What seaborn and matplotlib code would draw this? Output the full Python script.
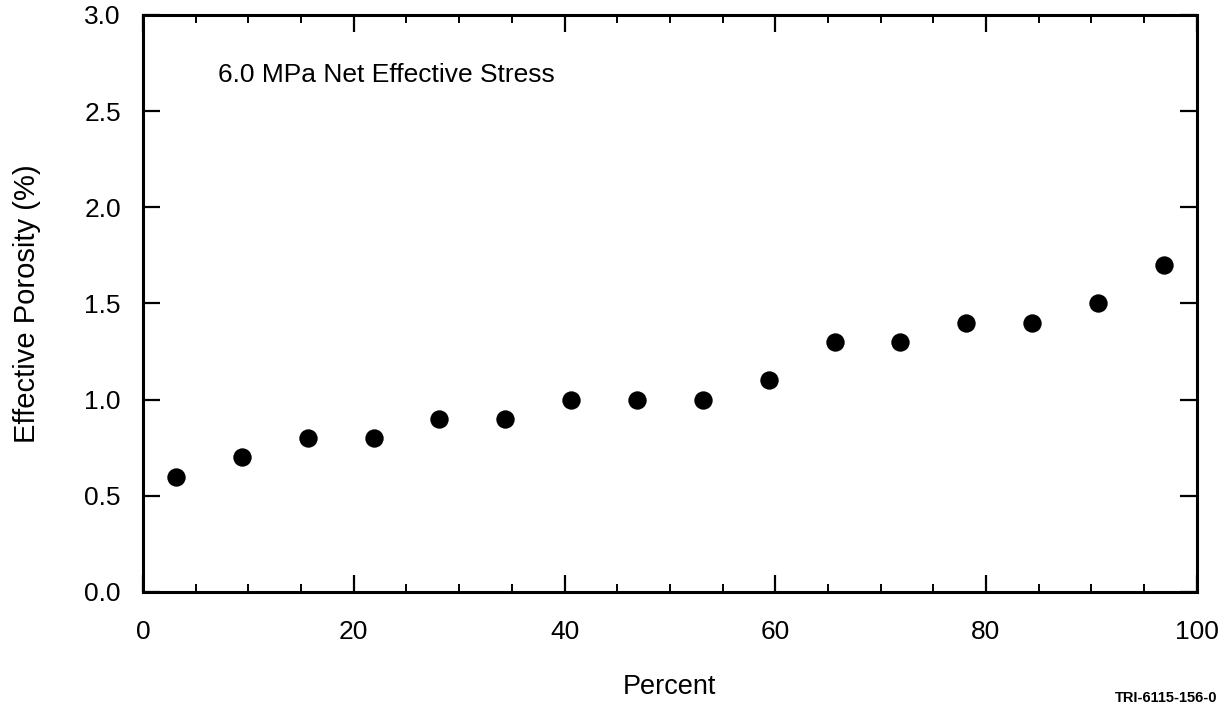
import matplotlib
matplotlib.use("Agg")
import matplotlib.pyplot as plt
import seaborn as sns
import pandas as pd
from matplotlib.ticker import MultipleLocator

# Cumulative percent (plotting position) and effective porosity at 6.0 MPa
percent = [3.125, 9.375, 15.625, 21.875, 28.125, 34.375, 40.625, 46.875,
           53.125, 59.375, 65.625, 71.875, 78.125, 84.375, 90.625, 96.875]
porosity = [0.6, 0.7, 0.8, 0.8, 0.9, 0.9, 1.0, 1.0,
            1.0, 1.1, 1.3, 1.3, 1.4, 1.4, 1.5, 1.7]

x_ticks = [0, 20, 40, 60, 80, 100]
y_ticks = [0.0, 0.5, 1.0, 1.5, 2.0, 2.5, 3.0]

df = pd.DataFrame({"Percent": percent, "Porosity": porosity})

sns.set_theme(style="ticks", rc={"text.color": "black",
                                 "axes.labelcolor": "black",
                                 "xtick.color": "black",
                                 "ytick.color": "black"})
plt.rcParams["font.family"] = ["Liberation Sans", "DejaVu Sans"]

fig = plt.figure(figsize=(12.28, 7.14), dpi=100)
ax = fig.add_axes([0.1165, 0.171, 0.858, 0.808])

sns.scatterplot(data=df, x="Percent", y="Porosity", ax=ax, s=175,
                color="black", edgecolor="black", linewidth=0, legend=False)

ax.set_xlim(0, 100)
ax.set_ylim(0, 3.0)
ax.set_xticks(x_ticks)
ax.set_yticks(y_ticks)
ax.set_yticklabels([f"{v:.1f}" for v in y_ticks])
ax.xaxis.set_minor_locator(MultipleLocator(5))

for side in ax.spines.values():
    side.set_linewidth(2.2)
    side.set_color("black")

ax.tick_params(which="major", direction="in", length=12, width=1.6,
               top=True, right=True, labelsize=19)
ax.tick_params(which="minor", direction="in", length=6, width=1.4,
               top=True, right=True)
ax.tick_params(axis="x", which="major", pad=20)
ax.tick_params(axis="y", which="major", pad=16)

ax.set_xlabel("Percent", fontsize=19.5, labelpad=22)
ax.set_ylabel("Effective Porosity (%)", fontsize=21, labelpad=31)

ax.text(7.1, 2.69, "6.0 MPa Net Effective Stress", fontsize=19,
        ha="left", va="center")

fig.text(0.991, 0.012, "TRI-6115-156-0", fontsize=10.5, fontweight="bold",
         ha="right", va="bottom")

fig.savefig("out.png", dpi=100)
